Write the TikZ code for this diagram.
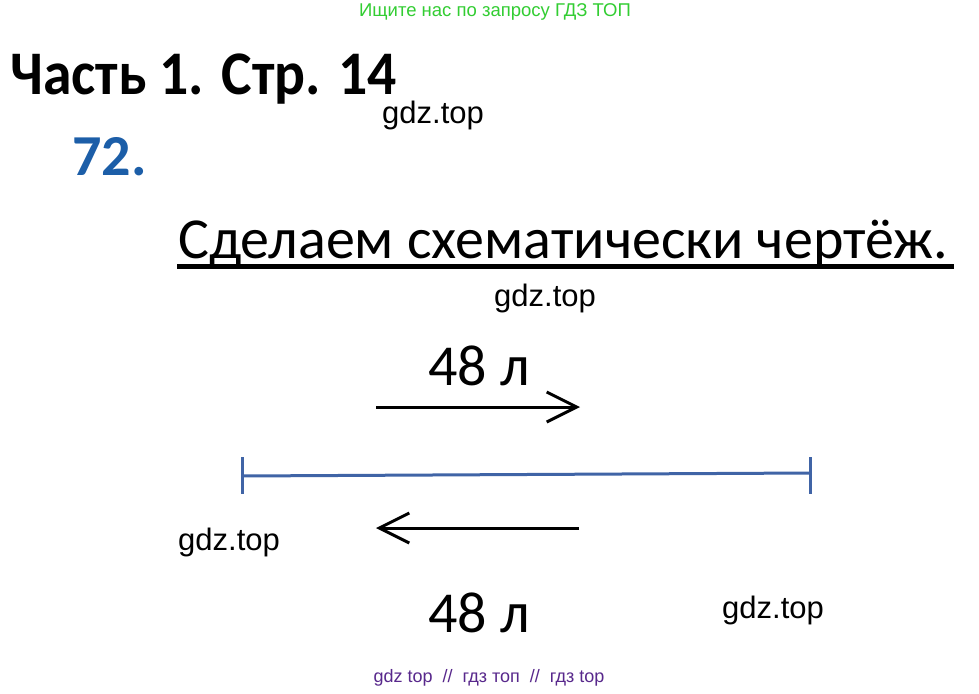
\documentclass[tikz,border=0pt]{standalone}
\usepackage{fontspec}
\setmainfont{Carlito}
\newfontfamily\wmfont{Liberation Sans}
\newfontfamily\ttlfont[FakeStretch=0.93]{Carlito}
\usetikzlibrary{arrows.meta,positioning}
\definecolor{hdrgreen}{RGB}{50,205,50}
\definecolor{numblue}{RGB}{28,94,168}
\definecolor{segblue}{RGB}{64,100,166}
\definecolor{ftrpurple}{RGB}{88,40,140}

\begin{document}
\begin{tikzpicture}[x=1pt,y=-1pt,
  wm/.style={font=\wmfont\fontsize{31}{31}\selectfont,inner sep=0pt,anchor=base west},
  big/.style={font=\fontsize{58}{58}\selectfont,inner sep=0pt,anchor=base west},
  arr/.style={line width=3pt,-{Straight Barb[length=30pt,width=30pt,line width=3pt]}},
  seg/.style={segblue,line width=3pt}]
\useasboundingbox[fill=white] (0,0) rectangle (979,693);

% header and footer
\node[font=\wmfont\fontsize{18.5}{18.5}\selectfont,text=hdrgreen,inner sep=0pt] (hdr) at (495,12) {Ищите нас по запросу ГДЗ ТОП};
\node[font=\wmfont\fontsize{18}{18}\selectfont,text=ftrpurple,inner sep=0pt] (ftr) at (489,678) {gdz top \ // \ гдз топ \ // \ гдз top};

% titles
\node[big,font=\ttlfont\bfseries\fontsize{62}{62}\selectfont] (part) at (10,94) {Часть 1. Стр. 14};
\node[big,font=\bfseries\fontsize{58}{58}\selectfont,text=numblue] (num) at (72,175) {72.};
\node[big] (task) at (178,258) {Сделаем схематически чертёж.};
\draw[line width=5pt] ([xshift=-1pt,yshift=-8pt]task.base west) -- ([xshift=6pt,yshift=-8pt]task.base east);

% watermarks
\node[wm] (wm1) at (382,123) {gdz.top};
\node[wm] (wm2) at (494,306) {gdz.top};
\node[wm] (wm3) at (178,550) {gdz.top};
\node[wm] (wm4) at (722,618) {gdz.top};

% labels
\node[big] (top) at (428,385) {48 л};
\node[big] (bot) at (428,632) {48 л};

% segment
\coordinate (segL) at (242,476);
\coordinate (segR) at (810,473);
\draw[seg] (segL) -- (segR);
\draw[seg] ([yshift=19pt]segL) -- ([yshift=-18pt]segL);
\draw[seg] ([yshift=16pt]segR) -- ([yshift=-21pt]segR);

% arrows
\coordinate (a1) at (376,407);
\coordinate (b1) at (580,407);
\coordinate (a2) at (579,528);
\coordinate (b2) at (376,528);
\draw[arr] (a1) -- (b1);
\draw[arr] (a2) -- (b2);

\end{tikzpicture}
\end{document}
